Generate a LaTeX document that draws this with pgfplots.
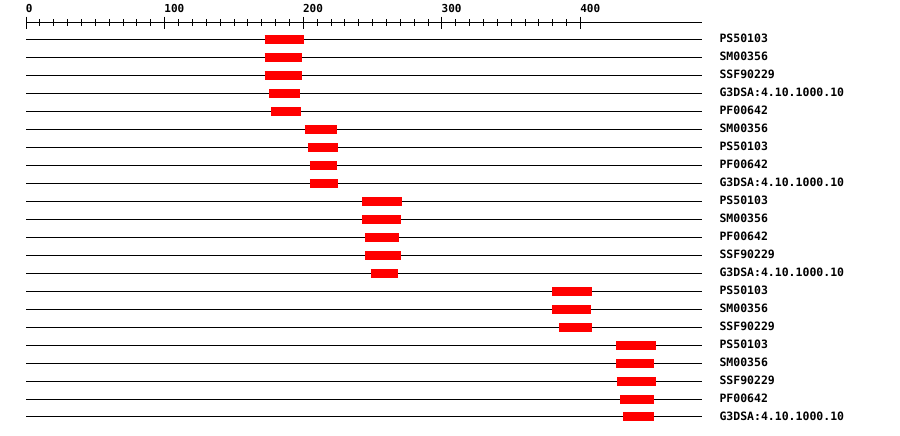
\documentclass[border=0pt]{standalone}
\usepackage{pgfplots}
\pgfplotsset{compat=1.18}
\usepackage{fontspec}
\setmonofont{DejaVu Sans Mono}
\newcommand{\lab}{\fontsize{11}{13}\selectfont\ttfamily\bfseries}
\newcommand{\rlab}{\fontsize{11.5}{13}\selectfont\ttfamily\bfseries}
\tikzset{lab/.style={anchor=west, inner sep=0pt, yshift=0.5pt, font=\rlab}}
\begin{document}
\begin{tikzpicture}
\useasboundingbox (-26.1pt,-19pt) rectangle (873.9pt,417pt);
\begin{axis}[
  scale only axis, width=675.6pt, height=394.3pt,
  xmin=0, xmax=487.4, ymin=-22, ymax=-0.078,
  axis x line*=top, axis y line=none,
  axis line style={black, line width=1pt},
  xtick={0,100,200,300,400},
  minor x tick num=9,
  tick align=center,
  major tick length=12.3pt, minor tick length=6.7pt,
  every tick/.style={black, line width=1pt},
  xticklabel style={anchor=south west, inner sep=0pt, xshift=-0.5pt, yshift=4pt, font=\lab},
  /pgf/number format/assume math mode=true,
  clip=false,
]
% row lines
\pgfplotsinvokeforeach{1,...,22}{
  \addplot[black, line width=1pt, forget plot] coordinates {(0,-#1) (487.4,-#1)};
}
% bars
\addplot[red, line width=9pt] coordinates {(172,-1) (200.5,-1)};
\addplot[red, line width=9pt] coordinates {(172,-2) (199,-2)};
\addplot[red, line width=9pt] coordinates {(172,-3) (199,-3)};
\addplot[red, line width=9pt] coordinates {(175.3,-4) (197.6,-4)};
\addplot[red, line width=9pt] coordinates {(176.7,-5) (198.3,-5)};
\addplot[red, line width=9pt] coordinates {(201.2,-6) (224.3,-6)};
\addplot[red, line width=9pt] coordinates {(203.4,-7) (225,-7)};
\addplot[red, line width=9pt] coordinates {(204.8,-8) (224.3,-8)};
\addplot[red, line width=9pt] coordinates {(204.8,-9) (225,-9)};
\addplot[red, line width=9pt] coordinates {(242.4,-10) (271.3,-10)};
\addplot[red, line width=9pt] coordinates {(242.4,-11) (270.5,-11)};
\addplot[red, line width=9pt] coordinates {(244.5,-12) (269,-12)};
\addplot[red, line width=9pt] coordinates {(244.5,-13) (270.5,-13)};
\addplot[red, line width=9pt] coordinates {(248.8,-14) (268.3,-14)};
\addplot[red, line width=9pt] coordinates {(379.4,-15) (408.3,-15)};
\addplot[red, line width=9pt] coordinates {(379.4,-16) (407.6,-16)};
\addplot[red, line width=9pt] coordinates {(384.5,-17) (408.3,-17)};
\addplot[red, line width=9pt] coordinates {(425.6,-18) (454.5,-18)};
\addplot[red, line width=9pt] coordinates {(425.6,-19) (453,-19)};
\addplot[red, line width=9pt] coordinates {(426.3,-20) (454.5,-20)};
\addplot[red, line width=9pt] coordinates {(428.5,-21) (453,-21)};
\addplot[red, line width=9pt] coordinates {(430.6,-22) (453,-22)};
% labels
\node[lab] at (axis cs:500.1,-1) {PS50103};
\node[lab] at (axis cs:500.1,-2) {SM00356};
\node[lab] at (axis cs:500.1,-3) {SSF90229};
\node[lab] at (axis cs:500.1,-4) {G3DSA:4.10.1000.10};
\node[lab] at (axis cs:500.1,-5) {PF00642};
\node[lab] at (axis cs:500.1,-6) {SM00356};
\node[lab] at (axis cs:500.1,-7) {PS50103};
\node[lab] at (axis cs:500.1,-8) {PF00642};
\node[lab] at (axis cs:500.1,-9) {G3DSA:4.10.1000.10};
\node[lab] at (axis cs:500.1,-10) {PS50103};
\node[lab] at (axis cs:500.1,-11) {SM00356};
\node[lab] at (axis cs:500.1,-12) {PF00642};
\node[lab] at (axis cs:500.1,-13) {SSF90229};
\node[lab] at (axis cs:500.1,-14) {G3DSA:4.10.1000.10};
\node[lab] at (axis cs:500.1,-15) {PS50103};
\node[lab] at (axis cs:500.1,-16) {SM00356};
\node[lab] at (axis cs:500.1,-17) {SSF90229};
\node[lab] at (axis cs:500.1,-18) {PS50103};
\node[lab] at (axis cs:500.1,-19) {SM00356};
\node[lab] at (axis cs:500.1,-20) {SSF90229};
\node[lab] at (axis cs:500.1,-21) {PF00642};
\node[lab] at (axis cs:500.1,-22) {G3DSA:4.10.1000.10};
\end{axis}
\end{tikzpicture}
\end{document}
